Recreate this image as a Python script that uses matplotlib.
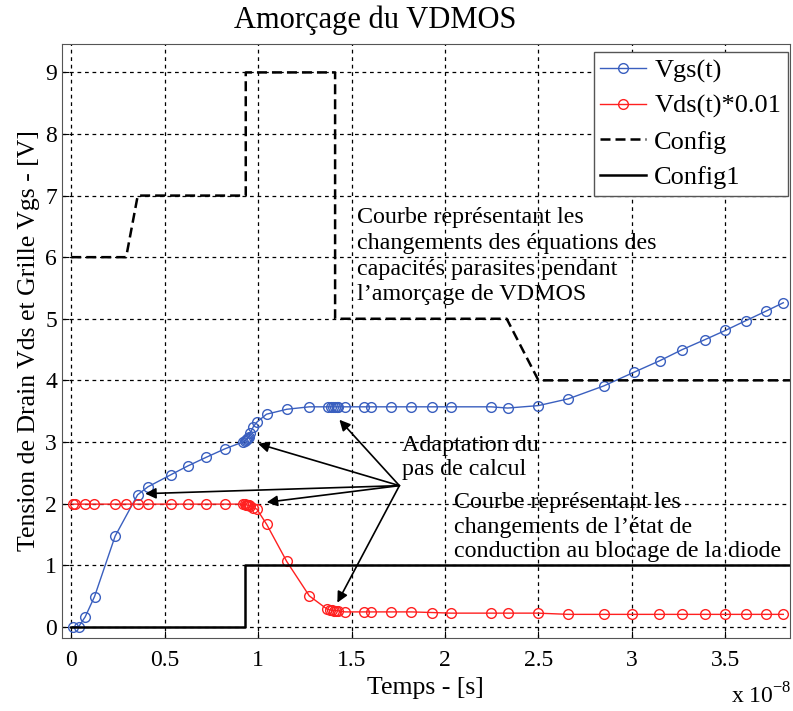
import numpy as np
import matplotlib
matplotlib.use('Agg')
import matplotlib.pyplot as plt
from matplotlib.ticker import FuncFormatter

plt.rcParams['font.family'] = ['Liberation Serif', 'DejaVu Serif']

# time steps (units of 1e-8 s)
t_vgs = [0.009, 0.04, 0.075, 0.125, 0.235, 0.355, 0.41, 0.535, 0.624, 0.722, 0.824,
         0.92, 0.93, 0.935, 0.94, 0.945, 0.95, 0.957, 0.975, 0.993, 1.045, 1.153, 1.274,
         1.376, 1.39, 1.40, 1.41, 1.42, 1.428, 1.465, 1.568, 1.603, 1.711, 1.82, 1.928,
         2.032, 2.246, 2.335, 2.5, 2.66, 2.85, 3.01, 3.15, 3.27, 3.39, 3.50, 3.61, 3.715, 3.81]
vgs = [0.0, 0.0, 0.16, 0.49, 1.47, 2.14, 2.27, 2.47, 2.61, 2.75, 2.89,
       3.0, 3.02, 3.03, 3.04, 3.06, 3.08, 3.14, 3.25, 3.32, 3.45, 3.53, 3.57,
       3.57, 3.57, 3.57, 3.57, 3.57, 3.57, 3.57, 3.57, 3.57, 3.57, 3.57, 3.57,
       3.57, 3.57, 3.55, 3.59, 3.70, 3.91, 4.13, 4.32, 4.50, 4.66, 4.81, 4.97, 5.12, 5.26]

t_vds = [0.009, 0.021, 0.075, 0.12, 0.235, 0.292, 0.355, 0.41, 0.535, 0.624, 0.722, 0.824,
         0.92, 0.93, 0.935, 0.94, 0.945, 0.95, 0.957, 0.975, 0.993, 1.046, 1.153, 1.274,
         1.367, 1.385, 1.395, 1.405, 1.415, 1.425, 1.465, 1.568, 1.603, 1.711, 1.82, 1.928,
         2.032, 2.246, 2.335, 2.496, 2.66, 2.85, 3.0, 3.146, 3.27, 3.39, 3.497, 3.608, 3.715, 3.81]
vds = [1.99, 1.99, 1.99, 1.99, 1.99, 1.99, 1.99, 1.99, 1.99, 1.99, 1.99, 1.99,
       1.99, 1.99, 1.98, 1.98, 1.97, 1.97, 1.96, 1.93, 1.91, 1.66, 1.06, 0.50,
       0.29, 0.27, 0.27, 0.26, 0.26, 0.26, 0.24, 0.24, 0.24, 0.24, 0.24, 0.23,
       0.22, 0.22, 0.22, 0.22, 0.20, 0.20, 0.20, 0.20, 0.20, 0.20, 0.20, 0.20, 0.20, 0.20]

t_config = [0.0, 0.294, 0.356, 0.934, 0.934, 1.412, 1.412, 2.33, 2.5, 3.9]
config = [6, 6, 7, 7, 9, 9, 5, 5, 4, 4]

t_config1 = [0.0, 0.93, 0.93, 3.9]
config1 = [0, 0, 1, 1]

scale = 1e-8
t_vgs = np.array(t_vgs) * scale
t_vds = np.array(t_vds) * scale
t_config = np.array(t_config) * scale
t_config1 = np.array(t_config1) * scale

fig = plt.figure(figsize=(7.93, 7.11), dpi=100)
ax = fig.add_axes([0.078, 0.103, 0.918, 0.835])

ax.plot(t_vgs, vgs, '-o', color='#3a5fbf', lw=1, ms=7, mfc='none', mew=1, label='Vgs(t)')
ax.plot(t_vds, vds, '-o', color='#ff2020', lw=1, ms=7, mfc='none', mew=1, label='Vds(t)*0.01')
ax.plot(t_config, config, '--', color='black', lw=1.8, dashes=(4, 2), label='Config')
ax.plot(t_config1, config1, '-', color='black', lw=1.8, label='Config1')

ax.set_xlim(-0.05e-8, 3.845e-8)
ax.set_ylim(-0.18, 9.46)
ax.set_xticks(np.arange(0, 3.6e-8, 0.5e-8))
ax.set_yticks(range(0, 10))
ax.xaxis.set_major_formatter(FuncFormatter(lambda v, p: f"{v / scale:g}"))
ax.grid(True, color='black', ls=(0, (3, 3)), lw=0.9)
ax.tick_params(direction='in', labelsize=17, length=5)
ax.tick_params(axis='x', pad=9)
for s in ax.spines.values():
    s.set_color('#555555')

fig.text(0.473, 0.972, 'Amorçage du VDMOS', fontsize=22, ha='center', va='center')
ax.set_xlabel('Temps - [s]', fontsize=18.5, labelpad=4)
ax.set_ylabel('Tension de Drain Vds et Grille Vgs - [V]', fontsize=18.5, labelpad=4)
fig.text(0.922, 0.01, r'x 10$^{\mathregular{-8}}$', fontsize=17)

leg = ax.legend(loc='upper right', bbox_to_anchor=(1 - 2 / 728, 1 - 8 / 594),
                fontsize=19, fancybox=False, edgecolor='#555555',
                framealpha=1, borderaxespad=0, handlelength=1.75, handletextpad=0.3,
                labelspacing=0.45, borderpad=0.25)
leg.get_frame().set_linewidth(1)

ax.text(1.53e-8, 6.81, "Courbe représentant les\nchangements des équations des\n"
        "capacités parasites pendant\nl’amorçage de VDMOS",
        fontsize=17.3, va='top', ha='left', linespacing=1.29)
ax.text(1.77e-8, 3.12, "Adaptation du\npas de calcul", fontsize=17.3, va='top', ha='left',
        linespacing=1.2)
ax.text(2.05e-8, 2.18, "Courbe représentant les\nchangements de l’état de\n"
        "conduction au blocage de la diode", fontsize=17.3, va='top', ha='left',
        linespacing=1.2)

src = (1.756e-8, 2.29)
targets = [(1.435e-8, 3.36), (1.0e-8, 2.97), (0.396e-8, 2.16), (1.046e-8, 2.02), (1.424e-8, 0.39)]
for tx, ty in targets:
    ax.annotate('', xy=(tx, ty), xytext=src,
                arrowprops=dict(arrowstyle='-|>', color='black', lw=1.2,
                                mutation_scale=16, shrinkA=0, shrinkB=0))

fig.savefig('out.png', dpi=100)
